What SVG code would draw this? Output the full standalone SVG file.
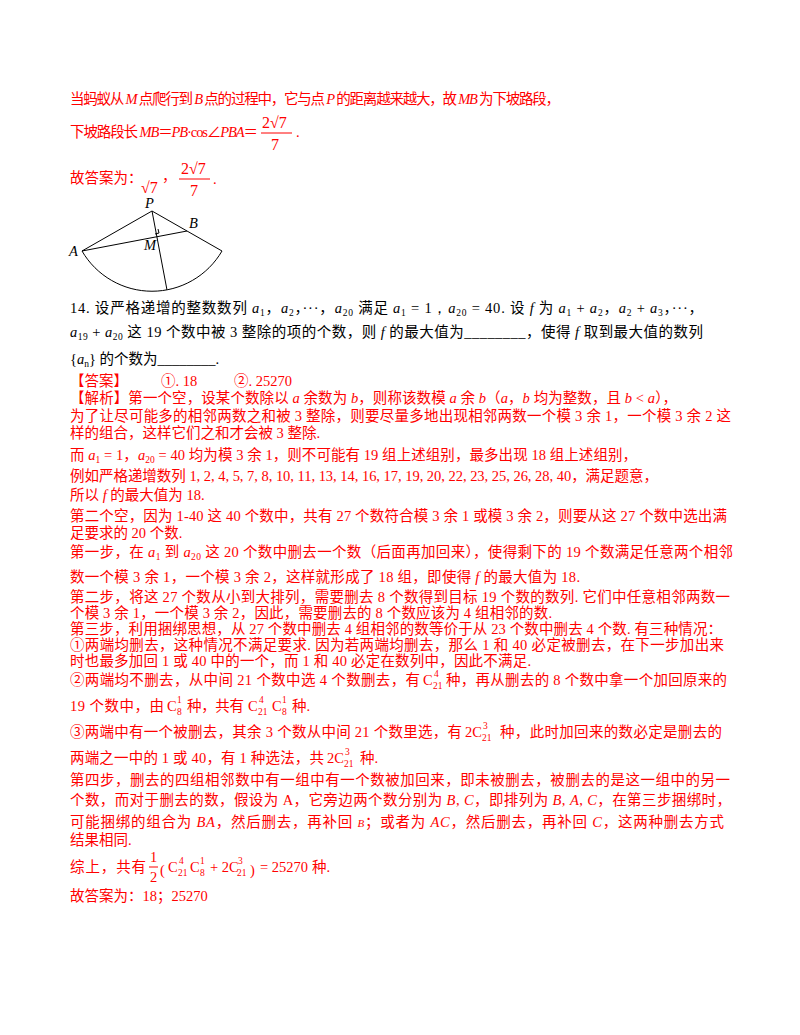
<svg xmlns="http://www.w3.org/2000/svg" width="800" height="1035" viewBox="0 0 800 1035">
<style>
text{font-family:"Liberation Serif","Noto Sans CJK SC",serif;font-size:14.5px;fill:#f00}
.k{fill:#000}
.m{font-family:"Liberation Serif",serif;font-style:italic}
.n{font-family:"Liberation Serif",serif}
.s{font-family:"Liberation Serif",serif;font-size:9.5px}
.L{font-family:"Liberation Serif",serif;font-size:16px}
line,path{stroke:#000;fill:none;stroke-width:1}
.fr{stroke:#f00}
</style>
<rect width="800" height="1035" fill="#fff"/>
<g id="p1">
<text x="70" y="104" textLength="490">当蚂蚁从 <tspan class="m">M</tspan> 点爬行到 <tspan class="m">B</tspan> 点的过程中，它与点 <tspan class="m">P</tspan> 的距离越来越大，故 <tspan class="m">MB</tspan> 为下坡路段，</text>
<text x="70" y="137" textLength="188">下坡路段长 <tspan class="m">MB</tspan>＝<tspan class="m">PB</tspan>·cos∠<tspan class="m">PBA</tspan>＝</text>
<text class="L" x="262" y="128">2√7</text><line class="fr" x1="261" y1="133" x2="292" y2="133"/><text class="L" x="271" y="150">7</text>
<text x="296" y="137">.</text>
<text x="70" y="183">故答案为：</text>
<text class="L" x="141" y="193">√7</text><text x="162" y="181">，</text>
<text class="L" x="181" y="174">2√7</text><line class="fr" x1="179" y1="179" x2="210" y2="179"/><text class="L" x="190" y="196">7</text><text x="213" y="184">.</text>
</g>
<g id="figure">
<line x1="152" y1="211" x2="82" y2="251"/>
<line x1="152" y1="211" x2="222" y2="251"/>
<line x1="82" y1="251" x2="187" y2="231"/>
<line x1="152" y1="211" x2="167" y2="290"/>
<path d="M82,251 A81,81 0 0 0 222,251"/>
<path d="M155,234 l4,-1 l-1,-4"/>
<text class="m k" x="145" y="208">P</text>
<text class="m k" x="189" y="228">B</text>
<text class="m k" x="69" y="256">A</text>
<text class="m k" x="144" y="250">M</text>
</g>
<g id="q14">
<text class="k" x="70" y="313" textLength="633">14. 设严格递增的整数数列 <tspan class="m">a</tspan><tspan class="s" dy="3">1</tspan><tspan dy="-3">，</tspan><tspan class="m">a</tspan><tspan class="s" dy="3">2</tspan><tspan dy="-3">，···，</tspan><tspan class="m">a</tspan><tspan class="s" dy="3">20</tspan><tspan dy="-3"> 满足 </tspan><tspan class="m">a</tspan><tspan class="s" dy="3">1</tspan><tspan dy="-3" class="n"> = 1，</tspan><tspan class="m">a</tspan><tspan class="s" dy="3">20</tspan><tspan dy="-3" class="n"> = 40</tspan>. 设 <tspan class="m">f</tspan> 为 <tspan class="m">a</tspan><tspan class="s" dy="3">1</tspan><tspan dy="-3"> + </tspan><tspan class="m">a</tspan><tspan class="s" dy="3">2</tspan><tspan dy="-3">，</tspan><tspan class="m">a</tspan><tspan class="s" dy="3">2</tspan><tspan dy="-3"> + </tspan><tspan class="m">a</tspan><tspan class="s" dy="3">3</tspan><tspan dy="-3">，···，</tspan></text>
<text class="k" x="70" y="337" textLength="633"><tspan class="m">a</tspan><tspan class="s" dy="3">19</tspan><tspan dy="-3"> + </tspan><tspan class="m">a</tspan><tspan class="s" dy="3">20</tspan><tspan dy="-3"> 这 19 个数中被 3 整除的项的个数，则 </tspan><tspan class="m">f</tspan> 的最大值为________，使得 <tspan class="m">f</tspan> 取到最大值的数列</text>
<text class="k" x="70" y="364">{<tspan class="m">a</tspan><tspan class="s" dy="3">n</tspan><tspan dy="-3">} 的个数为________.</tspan></text>
</g>
<g id="answer">
<text x="70" y="386">【答案】</text><text x="161" y="386">①. 18</text><text x="234" y="386">②. 25270</text>
<text x="70" y="403" textLength="607">【解析】第一个空，设某个数除以 <tspan class="m">a</tspan> 余数为 <tspan class="m">b</tspan>，则称该数模 <tspan class="m">a</tspan> 余 <tspan class="m">b</tspan>（<tspan class="m">a</tspan>，<tspan class="m">b</tspan> 均为整数，且 <tspan class="m">b</tspan> &lt; <tspan class="m">a</tspan>），</text>
<text x="70" y="421" textLength="661">为了让尽可能多的相邻两数之和被 3 整除，则要尽量多地出现相邻两数一个模 3 余 1，一个模 3 余 2 这</text>
<text x="70" y="438">样的组合，这样它们之和才会被 3 整除.</text>
<text x="70" y="460" textLength="567">而 <tspan class="m">a</tspan><tspan class="s" dy="3">1</tspan><tspan dy="-3"> = 1，</tspan><tspan class="m">a</tspan><tspan class="s" dy="3">20</tspan><tspan dy="-3"> = 40 均为模 3 余 1，则不可能有 19 组上述组别，最多出现 18 组上述组别，</tspan></text>
<text x="70" y="481" textLength="588">例如严格递增数列 1, 2, 4, 5, 7, 8, 10, 11, 13, 14, 16, 17, 19, 20, 22, 23, 25, 26, 28, 40，满足题意，</text>
<text x="70" y="500">所以 <tspan class="m">f</tspan> 的最大值为 18.</text>
<text x="70" y="521" textLength="657">第二个空，因为 1-40 这 40 个数中，共有 27 个数符合模 3 余 1 或模 3 余 2，则要从这 27 个数中选出满</text>
<text x="70" y="538">足要求的 20 个数.</text>
<text x="70" y="557" textLength="663">第一步，在 <tspan class="m">a</tspan><tspan class="s" dy="3">1</tspan><tspan dy="-3"> 到 </tspan><tspan class="m">a</tspan><tspan class="s" dy="3">20</tspan><tspan dy="-3"> 这 20 个数中删去一个数（后面再加回来），使得剩下的 19 个数满足任意两个相邻</tspan></text>
<text x="70" y="582" textLength="510">数一个模 3 余 1，一个模 3 余 2，这样就形成了 18 组，即使得 <tspan class="m">f</tspan> 的最大值为 18.</text>
<text x="70" y="602" textLength="660">第二步，将这 27 个数从小到大排列，需要删去 8 个数得到目标 19 个数的数列. 它们中任意相邻两数一</text>
<text x="70" y="618" textLength="482">个模 3 余 1，一个模 3 余 2，因此，需要删去的 8 个数应该为 4 组相邻的数.</text>
<text x="70" y="634" textLength="652">第三步，利用捆绑思想，从 27 个数中删去 4 组相邻的数等价于从 23 个数中删去 4 个数. 有三种情况：</text>
<text x="70" y="650" textLength="654">①两端均删去，这种情况不满足要求. 因为若两端均删去，那么 1 和 40 必定被删去，在下一步加出来</text>
<text x="70" y="666" textLength="461">时也最多加回 1 或 40 中的一个，而 1 和 40 必定在数列中，因此不满足.</text>
<text x="70" y="685" textLength="350">②两端均不删去，从中间 21 个数中选 4 个数删去，有</text>
<text class="n" x="423" y="685">C</text><text class="s" x="433" y="689">21</text><text class="s" x="434" y="677">4</text>
<text x="446" y="685" textLength="281">种，再从删去的 8 个数中拿一个加回原来的</text>
<text x="70" y="711" textLength="94">19 个数中，由</text>
<text class="n" x="167" y="711">C</text><text class="s" x="177" y="715">8</text><text class="s" x="177" y="703">1</text>
<text x="187" y="711" textLength="57">种，共有</text>
<text class="n" x="248" y="711">C</text><text class="s" x="258" y="715">21</text><text class="s" x="259" y="703">4</text>
<text class="n" x="272" y="711">C</text><text class="s" x="282" y="715">8</text><text class="s" x="282" y="703">1</text>
<text x="292" y="711">种.</text>
<text x="70" y="737" textLength="392">③两端中有一个被删去，其余 3 个数从中间 21 个数里选，有</text>
<text class="n" x="465" y="737">2C</text><text class="s" x="482" y="741">21</text><text class="s" x="483" y="729">3</text>
<text x="500" y="737" textLength="222">种，此时加回来的数必定是删去的</text>
<text x="70" y="763" textLength="254">两端之一中的 1 或 40，有 1 种选法，共</text>
<text class="n" x="327" y="763">2C</text><text class="s" x="344" y="767">21</text><text class="s" x="345" y="755">3</text>
<text x="360" y="763">种.</text>
<text x="70" y="785" textLength="660">第四步，删去的四组相邻数中有一组中有一个数被加回来，即未被删去，被删去的是这一组中的另一</text>
<text x="70" y="805" textLength="661">个数，而对于删去的数，假设为 <tspan class="n">A</tspan>，它旁边两个数分别为 <tspan class="m">B</tspan>, <tspan class="m">C</tspan>，即排列为 <tspan class="m">B</tspan>, <tspan class="m">A</tspan>, <tspan class="m">C</tspan>，在第三步捆绑时，</text>
<text x="70" y="827" textLength="654">可能捆绑的组合为 <tspan class="m">BA</tspan>，然后删去，再补回 <tspan class="m" font-size="11">B</tspan>；或者为 <tspan class="m">AC</tspan>，然后删去，再补回 <tspan class="m">C</tspan>，这两种删去方式</text>
<text x="70" y="845">结果相同.</text>
<text x="70" y="872" textLength="76">综上，共有</text>
<text class="n" x="150" y="862">1</text><line class="fr" x1="149" y1="867" x2="158" y2="867"/><text class="n" x="150" y="882">2</text>
<text class="n" x="160" y="875" font-size="22">(</text>
<text class="n" x="168" y="872">C</text><text class="s" x="178" y="876">21</text><text class="s" x="179" y="864">4</text>
<text class="n" x="190" y="872">C</text><text class="s" x="200" y="876">8</text><text class="s" x="200" y="864">1</text>
<text class="n" x="210" y="872">+ 2C</text><text class="s" x="237" y="876">21</text><text class="s" x="238" y="864">3</text>
<text class="n" x="250" y="875" font-size="22">)</text>
<text class="n" x="260" y="872">= 25270</text><text x="312" y="872">种.</text>
<text x="70" y="901">故答案为：18；25270</text>
</g>
</svg>
